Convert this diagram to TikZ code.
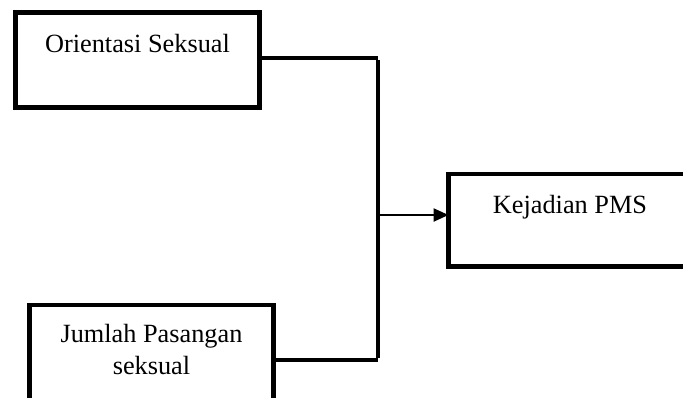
\documentclass[tikz,border=0pt]{standalone}
\usepackage{fontspec}
\setmainfont{Liberation Serif}
\usetikzlibrary{arrows.meta}
\begin{document}
\begin{tikzpicture}[x=1pt,y=-1pt,
  box/.style={draw=black, line width=4.5pt, outer sep=0pt, inner sep=0pt, fill=none},
  boxtext/.style={font=\fontsize{26.3}{32}\selectfont, inner sep=0pt, align=center, anchor=north},
  conn/.style={line width=3.6pt},
  arr/.style={line width=2.4pt, -{Triangle[length=15pt, width=13pt]}}]
\useasboundingbox (0,0) rectangle (683,397);
\clip (0,0) rectangle (683,397);
\fill[white] (0,0) rectangle (683,397);
\node[box, minimum width=244pt, minimum height=95pt,
  label={[boxtext, yshift=-22pt]north:Orientasi Seksual}] (b1) at (137.5,59.75) {};
\node[box, minimum width=244pt, minimum height=95pt,
  label={[boxtext, yshift=-19pt]north:Jumlah Pasangan\\seksual}] (b2) at (151.5,352.5) {};
\node[box, minimum width=300pt, minimum height=92.5pt] (b3) at (598.5,220.25) {};
\node[boxtext, anchor=north] (t3) at (570,195) {Kejadian PMS};
\coordinate (jt) at (378,58);
\coordinate (jb) at (378,360);
\coordinate (ja) at (378,215);
\draw[conn] (b1.east |- jt) -- (jt);
\draw[conn] (b2.east |- jb) -- (jb);
\draw[conn] ([yshift=-1.8pt]jt) -- ([yshift=1.8pt]jb);
\draw[arr] (ja) -- (b3.west |- ja);
\end{tikzpicture}
\end{document}
